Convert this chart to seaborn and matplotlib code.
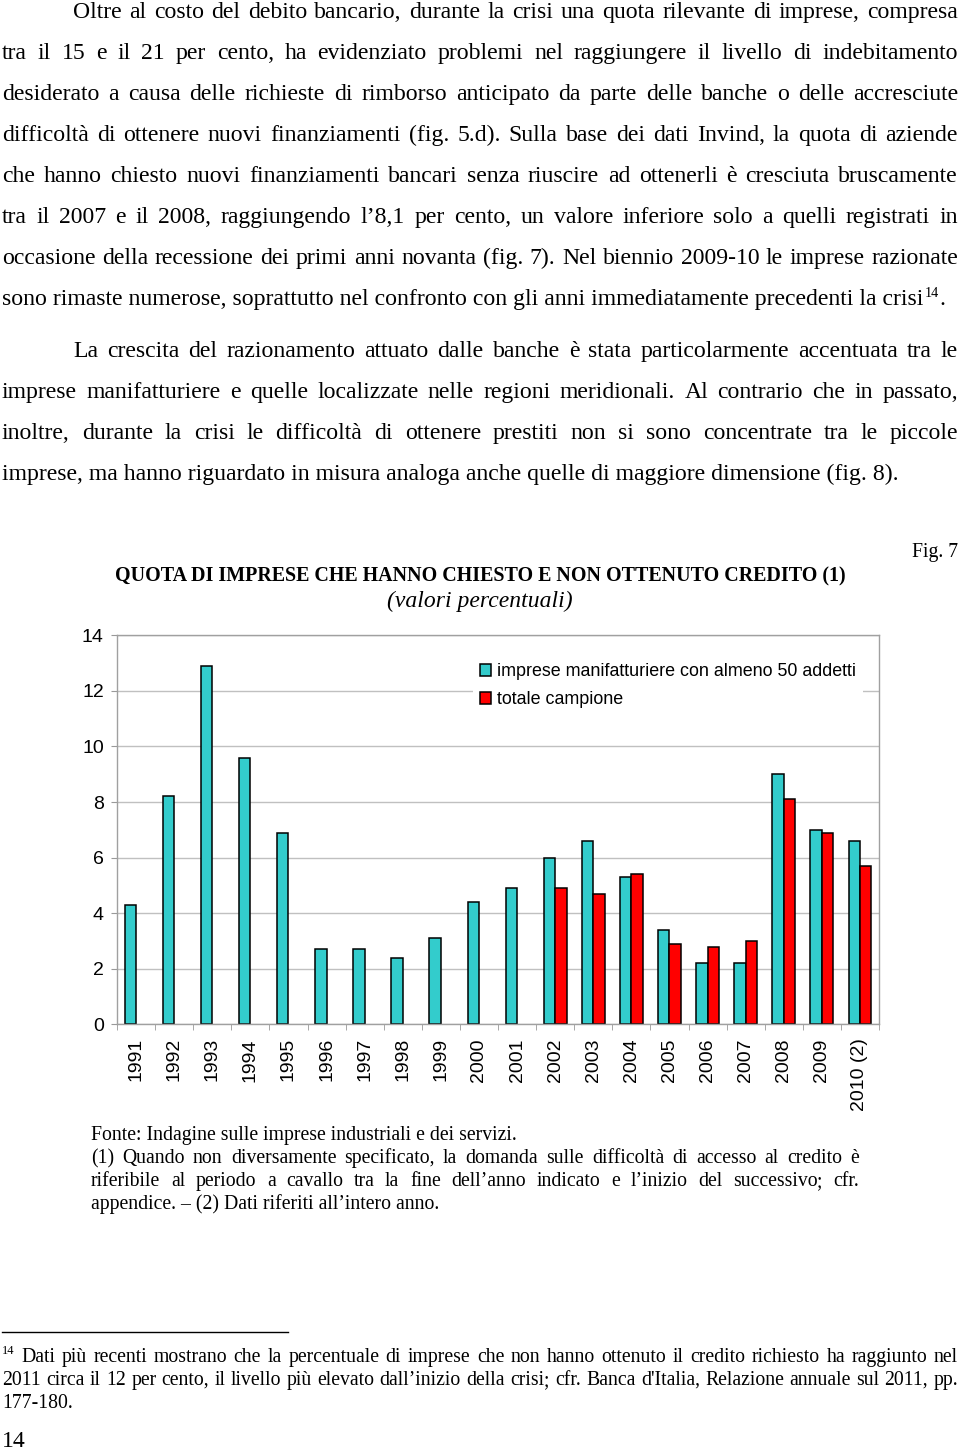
import numpy as np
import pandas as pd
import matplotlib
matplotlib.use("Agg")
import matplotlib.pyplot as plt
from matplotlib.transforms import IdentityTransform
from matplotlib.ticker import FixedLocator
import seaborn as sns

# ---------------- data ----------------
years = ["1991", "1992", "1993", "1994", "1995", "1996", "1997", "1998", "1999", "2000",
         "2001", "2002", "2003", "2004", "2005", "2006", "2007", "2008", "2009", "2010 (2)"]
manifatturiere = [4.3, 8.2, 12.9, 9.6, 6.9, 2.7, 2.7, 2.4, 3.1, 4.4,
                  4.9, 6.0, 6.6, 5.3, 3.4, 2.2, 2.2, 9.0, 7.0, 6.6]
totale = [np.nan] * 11 + [4.9, 4.7, 5.4, 2.9, 2.8, 3.0, 8.1, 6.9, 5.7]
series_names = ["imprese manifatturiere con almeno 50 addetti", "totale campione"]
y_ticks = [0, 2, 4, 6, 8, 10, 12, 14]

title = "QUOTA DI IMPRESE CHE HANNO CHIESTO E NON OTTENUTO CREDITO (1)"
subtitle = "(valori percentuali)"
fig_label = "Fig. 7"

para1 = [
    "Oltre al costo del debito bancario, durante la crisi una quota rilevante di imprese, compresa",
    "tra il 15 e il 21 per cento, ha evidenziato problemi nel raggiungere il livello di indebitamento",
    "desiderato a causa delle richieste di rimborso anticipato da parte delle banche o delle accresciute",
    "difficoltà di ottenere nuovi finanziamenti (fig. 5.d). Sulla base dei dati Invind, la quota di aziende",
    "che hanno chiesto nuovi finanziamenti bancari senza riuscire ad ottenerli è cresciuta bruscamente",
    "tra il 2007 e il 2008, raggiungendo l’8,1 per cento, un valore inferiore solo a quelli registrati in",
    "occasione della recessione dei primi anni novanta (fig. 7). Nel biennio 2009-10 le imprese razionate",
]
para1_last = "sono rimaste numerose, soprattutto nel confronto con gli anni immediatamente precedenti la crisi"
para2 = [
    "La crescita del razionamento attuato dalle banche è stata particolarmente accentuata tra le",
    "imprese manifatturiere e quelle localizzate nelle regioni meridionali. Al contrario che in passato,",
    "inoltre, durante la crisi le difficoltà di ottenere prestiti non si sono concentrate tra le piccole",
]
para2_last = "imprese, ma hanno riguardato in misura analoga anche quelle di maggiore dimensione (fig. 8)."

notes_first = "Fonte: Indagine sulle imprese industriali e dei servizi."
notes = [
    "(1) Quando non diversamente specificato, la domanda sulle difficoltà di accesso al credito è",
    "riferibile al periodo a cavallo tra la fine dell’anno indicato e l’inizio del successivo; cfr.",
]
notes_last = "appendice. – (2) Dati riferiti all’intero anno."

foot = [
    "Dati più recenti mostrano che la percentuale di imprese che non hanno ottenuto il credito richiesto ha raggiunto nel",
    "2011 circa il 12 per cento, il livello più elevato dall’inizio della crisi; cfr. Banca d'Italia, Relazione annuale sul 2011, pp.",
]
foot_last = "177-180."
page_no = "14"

# ---------------- figure ----------------
W, H = 960, 1451
fig = plt.figure(figsize=(W / 100, H / 100), dpi=100)
fig.patch.set_facecolor("white")
renderer = fig.canvas.get_renderer()
SERIF = "Liberation Serif"
SANS = "Liberation Sans"
PIX = IdentityTransform()


def put(x, ytop, s, size, ha="left", family=SERIF, **kw):
    return fig.text(x, H - ytop, s, fontsize=size, family=family, ha=ha,
                    va="baseline", transform=PIX, **kw)


def width_of(t):
    return t.get_window_extent(renderer).width


def justified(line, x0, x1, ybase, size, family=SERIF):
    words = line.split(" ")
    groups = []
    for w in words:
        # draw a trailing semicolon on its own so the word keeps the common baseline
        parts = [w[:-1], ";"] if (w.endswith(";") and len(w) > 1) else [w]
        objs = [put(0, ybase, p, size, family=family) for p in parts]
        groups.append((objs, [width_of(o) for o in objs]))
    total = sum(sum(ws) for _, ws in groups)
    gap = (x1 - x0 - total) / max(len(groups) - 1, 1)
    x = x0
    for objs, ws in groups:
        for o, w in zip(objs, ws):
            o.set_x(x)
            x += w
        x += gap


BODY = 17.1
# paragraph 1
for i, line in enumerate(para1):
    x0 = 73 if i == 0 else 2
    justified(line, x0, 958, 18 + 41 * i, BODY)
t = put(2, 18 + 41 * 7, para1_last, BODY)
xe = 2 + width_of(t)
t2 = put(xe + 1, 18 + 41 * 7 - 8, "14", BODY * 0.6)
put(xe + 2 + width_of(t2), 18 + 41 * 7, ".", BODY)

# paragraph 2
for i, line in enumerate(para2):
    x0 = 73 if i == 0 else 2
    justified(line, x0, 958, 357 + 41 * i, BODY)
put(2, 357 + 41 * 3, para2_last, BODY)

# chart titles
put(480, 581, title, 14.4, ha="center", weight="bold")
put(480, 607, subtitle, 17.0, ha="center", style="italic")
put(958, 557, fig_label, 14.2, ha="right")

# ---------------- chart ----------------
ax_left, ax_right, ax_top, ax_bot = 117, 879, 635.3, 1024.3
ax = fig.add_axes([ax_left / W, 1 - ax_bot / H, (ax_right - ax_left) / W, (ax_bot - ax_top) / H])

df = pd.DataFrame({
    "anno": years * 2,
    "serie": [series_names[0]] * len(years) + [series_names[1]] * len(years),
    "valore": manifatturiere + totale,
})
sns.barplot(data=df, x="anno", y="valore", hue="serie", order=years, hue_order=series_names,
            palette=["#33CCCC", "#FF0000"], saturation=1, width=0.6, edgecolor="black",
            linewidth=1.1, errorbar=None, ax=ax)

ax.set_ylim(0, 14)
ax.set_xlim(-0.5, len(years) - 0.5)
ax.set_yticks(y_ticks)
ax.set_yticklabels([str(v) for v in y_ticks], family=SANS, fontsize=14)
ax.set_xticks(range(len(years)))
ax.set_xticklabels(years, rotation=90, family=SANS, fontsize=14, va="top", ha="center")
ax.xaxis.set_minor_locator(FixedLocator(np.arange(-0.5, len(years), 1.0)))
ax.tick_params(axis="x", which="major", length=0, pad=10)
ax.tick_params(axis="x", which="minor", length=4, color="#999999", direction="out")
ax.tick_params(axis="y", length=4, color="#999999", pad=5.5)
ax.set_xlabel("")
ax.set_ylabel("")
ax.set_facecolor("white")
ax.yaxis.grid(True, color="#c0c0c0", lw=1)
ax.set_axisbelow(True)
for s in ax.spines.values():
    s.set_color("#a0a0a0")
    s.set_linewidth(1)

handles, labels = ax.get_legend_handles_labels()
leg = ax.legend(handles, labels, loc="upper left",
                bbox_to_anchor=((473 - ax_left) / (ax_right - ax_left), (ax_bot - 656) / (ax_bot - ax_top)),
                frameon=True, facecolor="white", edgecolor="none", framealpha=1,
                prop={"family": SANS, "size": 12.85}, handlelength=0.62, handleheight=0.62,
                handletextpad=0.3, labelspacing=0.62, borderaxespad=0, borderpad=0.4)

# ---------------- notes ----------------
NOTE = 14.2
put(91, 1140, notes_first, NOTE)
for i, line in enumerate(notes):
    justified(line, 91, 859, 1163 + 23 * i, NOTE)
put(91, 1163 + 23 * 2, notes_last, NOTE)

# footnote rule
fig.add_artist(plt.Line2D([2, 288], [H - 1332, H - 1332], color="black", lw=1, transform=PIX))
put(2, 1354, "14", 9.0)
justified(foot[0], 21, 958, 1362, NOTE)
justified(foot[1], 2, 958, 1385, NOTE)
put(2, 1408, foot_last, NOTE)
put(2, 1447, page_no, BODY)

fig.savefig("out.png", dpi=100, facecolor="white")
